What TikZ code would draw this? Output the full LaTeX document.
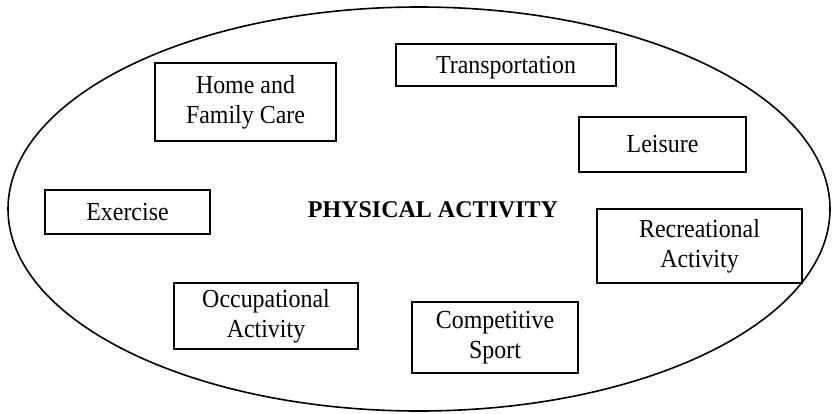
\documentclass[tikz,border=0pt]{standalone}
\usepackage{fontspec}
\setmainfont{Liberation Serif}
\newfontfamily\boxfont[FakeStretch=0.92]{Liberation Serif}
\usepackage{tikz}
\usetikzlibrary{positioning}

\tikzset{
  actbox/.style={draw, thick, align=center, inner sep=0pt, font=\boxfont\fontsize{13}{15}\selectfont},
  nodepth/.style={text depth=0pt},
  plainbox/.style={},
}

\begin{document}
\begin{tikzpicture}[x=0.5pt, y=-0.5pt]
    % Frame
    \useasboundingbox (0,0) rectangle (833,413);

    % Outer ellipse
    \draw[thick] (419,209) ellipse [x radius=411, y radius=202];

    % Title
    \node[font=\fontsize{12}{14}\selectfont\bfseries] (title) at (433,210) {PHYSICAL ACTIVITY};

    % Activities
    \foreach \n/\x/\y/\w/\h/\o/\t in {
      home/245.5/102/181/78/plainbox/{Home and\\Family Care},
      transport/506/65/220/42/nodepth/{Transportation},
      leisure/662.5/144.5/167/55/plainbox/{Leisure},
      exercise/127.5/212/165/44/plainbox/{Exercise},
      recreation/699.5/246/205/74/plainbox/{Recreational\\Activity},
      occupation/266/316/184/66/plainbox/{Occupational\\Activity},
      sport/495/337.5/166/71/plainbox/{Competitive\\Sport}} {
      \node[actbox, \o, minimum width=\w*0.5pt, minimum height=\h*0.5pt] (\n) at (\x,\y) {\t};
    }

\end{tikzpicture}
\end{document}
